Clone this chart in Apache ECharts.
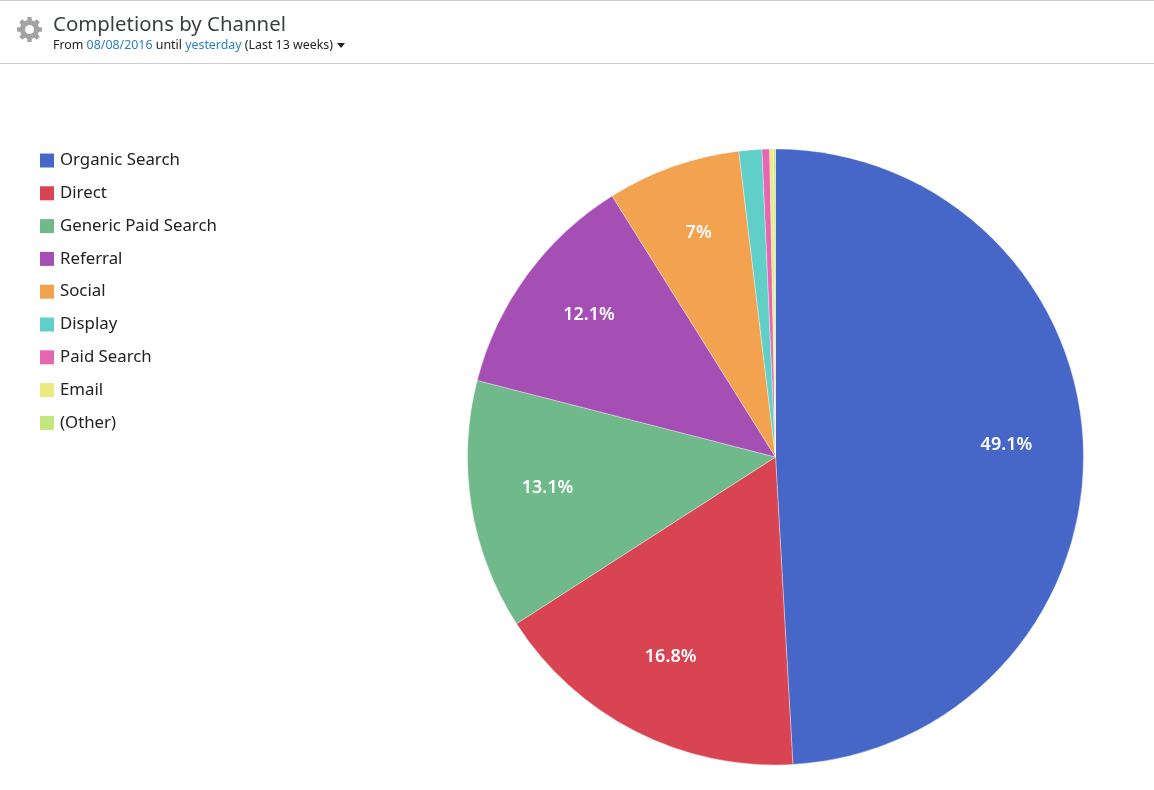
<!DOCTYPE html>
<html>
<head>
<meta charset="utf-8">
<style>html,body{margin:0;padding:0;background:#fff}#c{width:1154px;height:790px}</style>
<script src="https://cdn.jsdelivr.net/npm/echarts@6/dist/echarts.min.js"></script>
</head>
<body>
<div id="c"></div>
<script>
const categories = ['Organic Search','Direct','Generic Paid Search','Referral','Social','Display','Paid Search','Email','(Other)'];
const values = [49.1,16.8,13.1,12.1,7,1.2,0.4,0.2,0.1];
const colors = ['#4667c8','#d84452','#6fb98a','#a54fb5','#f3a24f','#5fcfc7','#e667b0','#e9ea80','#c3e67e'];
const labelledMin = 5;
const FONT = '"Noto Sans","Open Sans",sans-serif';

function gearPoints(cx, cy, rOut, rIn, teeth) {
  const pts = [];
  const step = Math.PI * 2 / teeth;
  for (let i = 0; i < teeth; i++) {
    const a = i * step;
    [[-0.5,rIn],[-0.3,rIn],[-0.22,rOut],[0.22,rOut],[0.3,rIn],[0.5,rIn]].forEach(([k,r]) => {
      const t = a + k * step;
      pts.push([cx + r*Math.cos(t), cy + r*Math.sin(t)]);
    });
  }
  return pts;
}

const chart = echarts.init(document.getElementById('c'), null, {renderer:'canvas'});
chart.setOption({
  animation:false,
  color:colors,
  textStyle:{fontFamily:FONT},
  title:{
    left:48, top:10, itemGap:4,
    text:'Completions by Channel',
    textStyle:{fontFamily:FONT,fontSize:20.4,fontWeight:'normal',color:'#3a3f45'},
    subtext:'From {a|08/08/2016} until {a|yesterday} (Last 13 weeks)',
    subtextStyle:{fontFamily:FONT,fontSize:12.4,color:'#222',rich:{a:{fontFamily:FONT,fontSize:12.4,color:'#2b7fc4'}}}
  },
  legend:{
    orient:'vertical', left:35, top:144,
    itemWidth:14, itemHeight:14, itemGap:9.8, icon:'rect',
    data:categories,
    itemStyle:{borderWidth:0},
    textStyle:{fontFamily:FONT,fontSize:16.8,color:'#222',lineHeight:19,padding:[4,0,0,1]},
    selectedMode:false
  },
  graphic:[
    {type:'rect',shape:{x:0,y:0,width:1154,height:1},style:{fill:'#cccccc'},silent:true},
    {type:'rect',shape:{x:0,y:63,width:1154,height:1},style:{fill:'#cccccc'},silent:true},
    {type:'polygon',shape:{points:gearPoints(29.5,29.5,12.6,9.6,8)},style:{fill:'#a3a3a3'},silent:true},
    {type:'circle',shape:{cx:29.5,cy:29.5,r:4.6},style:{fill:'#fff'},silent:true},
    {type:'polygon',shape:{points:[[337,43],[345,43],[341,48]]},style:{fill:'#222'},silent:true}
  ],
  series:[
    {
      type:'pie', name:'slices', center:[775.5,457], radius:[0,308],
      startAngle:90, clockwise:true, label:{show:false}, labelLine:{show:false},
      silent:true, emphasis:{disabled:true},
      itemStyle:{borderColor:'rgba(255,255,255,0.35)',borderWidth:1},
      data:categories.map((n,i)=>({name:n,value:values[i]}))
    },
    {
      type:'pie', name:'labels', center:[775.5,451], radius:[148,308],
      startAngle:90, clockwise:true, silent:true, emphasis:{disabled:true},
      itemStyle:{color:'transparent',borderWidth:0},
      labelLine:{show:false},
      label:{
        show:true, position:'inside', color:'#fff', fontFamily:FONT, fontSize:18, fontWeight:600,
        formatter:p=>p.value>=labelledMin?p.value+'%':''
      },
      data:categories.map((n,i)=>({name:n,value:values[i]}))
    }
  ]
});
</script>
</body>
</html>
